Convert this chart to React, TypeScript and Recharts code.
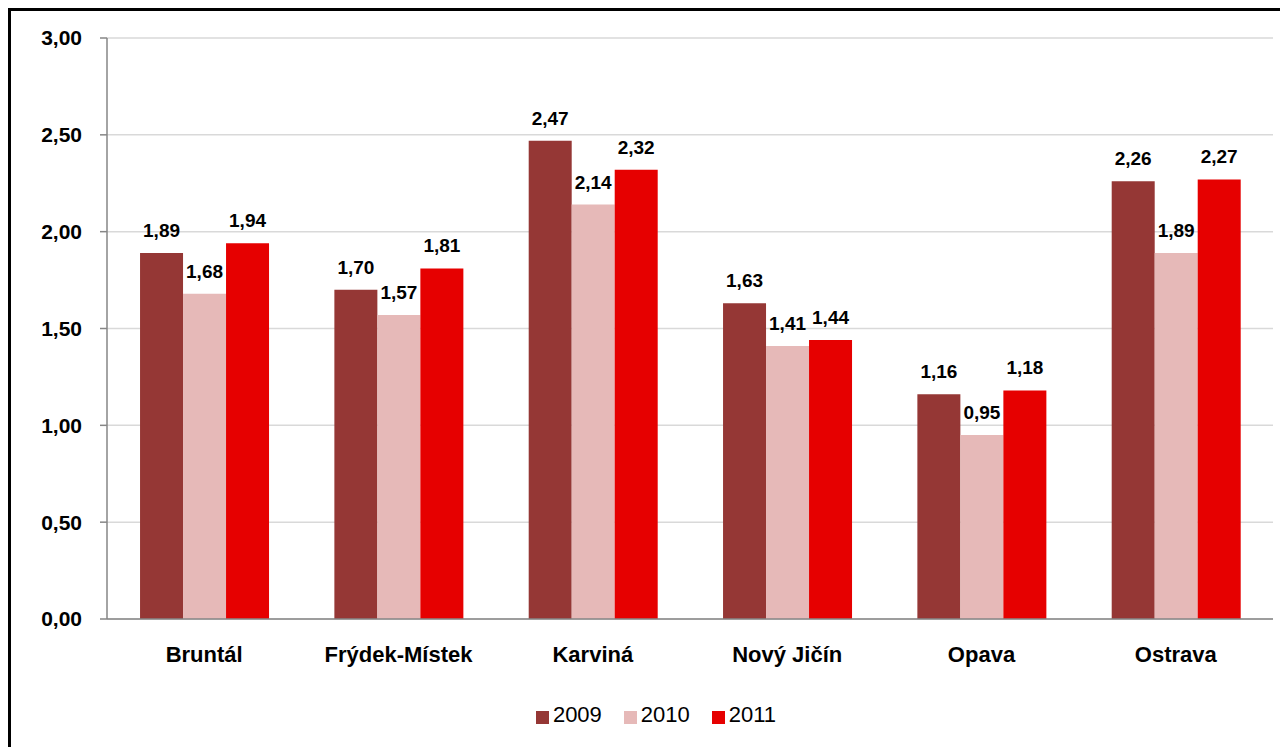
import React from 'react';
import { BarChart, Bar, XAxis, YAxis, CartesianGrid, Legend, LabelList } from 'recharts';

const categories = ['Bruntál', 'Frýdek-Místek', 'Karviná', 'Nový Jičín', 'Opava', 'Ostrava'];
const values2009 = [1.89, 1.70, 2.47, 1.63, 1.16, 2.26];
const values2010 = [1.68, 1.57, 2.14, 1.41, 0.95, 1.89];
const values2011 = [1.94, 1.81, 2.32, 1.44, 1.18, 2.27];
const yTicks = [0, 0.5, 1, 1.5, 2, 2.5, 3];
const boundaryTicks = [0, 1, 2, 3, 4, 5, 6];

const data = categories.map((name, i) => ({
  name,
  y2009: values2009[i],
  y2010: values2010[i],
  y2011: values2011[i],
}));

const FONT = '"Liberation Sans", Arial, sans-serif';
const fmt = (v: number) => v.toFixed(2).replace('.', ',');

const labelStyle = { fontSize: 19, fontWeight: 700, fill: '#000', fontFamily: FONT };

export default function App() {
  return (
    <div style={{ width: 1280, height: 739, overflow: 'hidden', position: 'relative' }}>
      <div
        style={{
          position: 'absolute',
          left: 0,
          top: 0,
          width: 1320,
          height: 780,
          border: '3px solid #000',
          boxSizing: 'border-box',
          background: '#fff',
          fontFamily: FONT,
        }}
      >
        <BarChart
          width={1270}
          height={736}
          data={data}
          margin={{ top: 27, right: 8, left: 0, bottom: 19 }}
          barCategoryGap="17%"
          barGap={0}
        >
          <CartesianGrid horizontal vertical={false} stroke="#D9D9D9" strokeWidth={1.5} xAxisId="cat" />
          <XAxis
            xAxisId="ticks"
            type="number"
            domain={[0, 6]}
            ticks={boundaryTicks}
            tickFormatter={() => ''}
            axisLine={false}
            tickLine={{ stroke: '#868686', strokeWidth: 1.5 }}
            tickSize={7}
            height={0}
            allowDataOverflow
          />
          <XAxis
            xAxisId="cat"
            dataKey="name"
            type="category"
            axisLine={{ stroke: '#868686', strokeWidth: 1.5 }}
            tickLine={false}
            tickSize={0}
            tickMargin={27}
            height={83}
            interval={0}
            tick={{ fontSize: 22, fontWeight: 700, fill: '#000', fontFamily: FONT }}
          />
          <YAxis
            width={96}
            domain={[0, 3]}
            ticks={yTicks}
            tickFormatter={fmt}
            axisLine={{ stroke: '#868686', strokeWidth: 1.5 }}
            tickLine={{ stroke: '#868686', strokeWidth: 1.5 }}
            tickSize={7}
            tickMargin={18}
            tick={{ fontSize: 21, fontWeight: 700, fill: '#000', fontFamily: FONT }}
            allowDataOverflow
          />
          <Legend
            verticalAlign="bottom"
            align="center"
            iconType="square"
            iconSize={13}
            wrapperStyle={{ paddingLeft: 25 }}
            formatter={(v: string) => (
              <span style={{ color: '#000', fontSize: 22, marginRight: 12, fontFamily: FONT }}>{v}</span>
            )}
          />
          <Bar xAxisId="cat" dataKey="y2009" name="2009" fill="#953735" isAnimationActive={false}>
            <LabelList dataKey="y2009" position="top" offset={16} formatter={(v: any) => fmt(Number(v))} style={labelStyle} />
          </Bar>
          <Bar xAxisId="cat" dataKey="y2010" name="2010" fill="#E6B9B8" isAnimationActive={false}>
            <LabelList dataKey="y2010" position="top" offset={16} formatter={(v: any) => fmt(Number(v))} style={labelStyle} />
          </Bar>
          <Bar xAxisId="cat" dataKey="y2011" name="2011" fill="#E60000" isAnimationActive={false}>
            <LabelList dataKey="y2011" position="top" offset={16} formatter={(v: any) => fmt(Number(v))} style={labelStyle} />
          </Bar>
        </BarChart>
      </div>
    </div>
  );
}
